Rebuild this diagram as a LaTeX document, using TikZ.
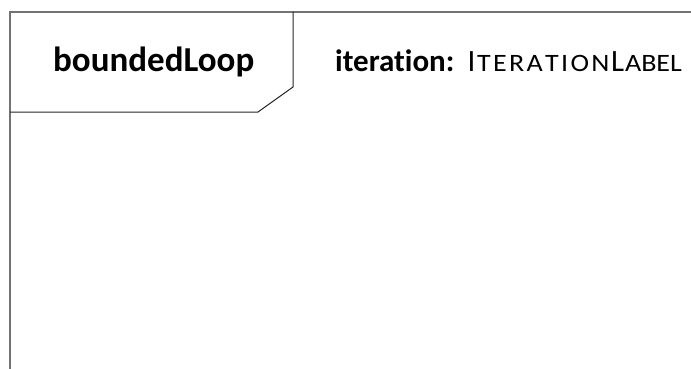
\documentclass[tikz,border=0pt]{standalone}
\usepackage{fontspec}
\setmainfont{Carlito}[Ligatures=NoCommon]
\newfontfamily\scfake{Carlito}[FakeStretch=1.12]
\newcommand{\fscfont}{\scfake\fontsize{25}{27}\selectfont}
\begin{document}
\begin{tikzpicture}[x=1pt,y=-1pt,
  frameline/.style={draw=black!55,line width=1.3pt},
  tagline/.style={draw=black!85,line width=1pt},
  lbl/.style={anchor=base west,inner sep=0pt}]
\useasboundingbox (0,0) rectangle (691,369);
\coordinate (tl) at (10,12);
\coordinate (tr) at (691,12);
\coordinate (bl) at (10,369);
\draw[frameline] (bl) -- (tl) -- (tr);
\coordinate (p1) at (293,12);
\coordinate (p2) at (293,87);
\coordinate (p3) at (258,112);
\coordinate (p4) at (10,112);
\draw[tagline] (p1) -- (p2) -- (p3) -- (p4);
\node[lbl,font=\fontsize{35}{37}\selectfont] (name) at (53,72) {\textbf{boundedLoop}};
\node[lbl,font=\fontsize{31}{33}\selectfont] (iter) at (335,72) {\textbf{iteration:}\hspace{4pt} I\makebox[134pt][s]{\fscfont\hspace{1.5pt}T\hfil E\hfil R\hfil A\hfil T\hfil I\hfil O\hfil N}\hspace{1.5pt}L\makebox[57pt][s]{\fscfont\hspace{1pt}A\hfil B\hfil E\hfil L}};
\end{tikzpicture}
\end{document}
